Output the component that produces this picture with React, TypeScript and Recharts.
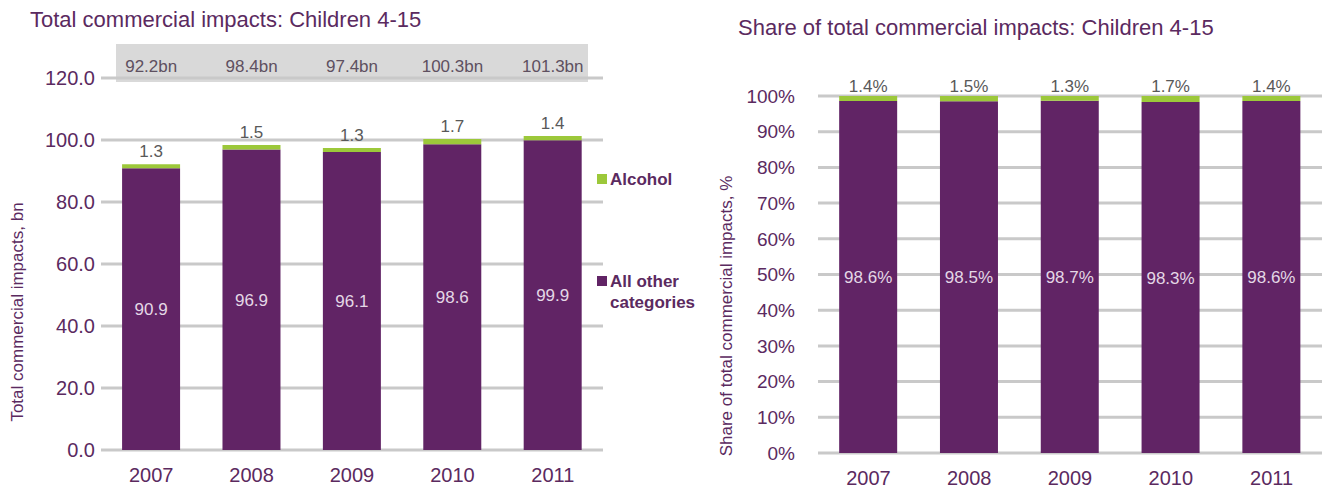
import { BarChart, Bar, XAxis, YAxis, CartesianGrid, LabelList } from 'recharts';

const years = ['2007', '2008', '2009', '2010', '2011'];
const otherBn = [90.9, 96.9, 96.1, 98.6, 99.9];
const alcoholBn = [1.3, 1.5, 1.3, 1.7, 1.4];
const totalsBn = [92.2, 98.4, 97.4, 100.3, 101.3];
const otherPct = [98.6, 98.5, 98.7, 98.3, 98.6];
const alcoholPct = [1.4, 1.5, 1.3, 1.7, 1.4];
const bnTicks = [0, 20, 40, 60, 80, 100, 120];
const pctTicks = [0, 10, 20, 30, 40, 50, 60, 70, 80, 90, 100];

const PURPLE = '#612465';
const GREEN = '#9cc83a';
const TEXT = '#5b2a5f';
const GRID = '#c9c9c9';
const FONT = '"Liberation Sans", Arial, sans-serif';

const bnData = years.map((year, i) => ({ year, other: otherBn[i], alcohol: alcoholBn[i], total: totalsBn[i] }));
const pctData = years.map((year, i) => ({ year, other: otherPct[i], alcohol: alcoholPct[i] }));

const tickStyle = { fill: TEXT, fontSize: 20, fontFamily: FONT };

const LegendBox = () => (
  <div style={{ position: 'absolute', left: 597, top: 169, fontFamily: FONT, fontSize: 17, fontWeight: 'bold', color: TEXT, lineHeight: '21px' }}>
    <div style={{ display: 'flex', alignItems: 'flex-start' }}>
      <span style={{ width: 10, height: 10, background: GREEN, marginTop: 5, marginRight: 3 }} />
      <span>Alcohol</span>
    </div>
    <div style={{ display: 'flex', alignItems: 'flex-start', marginTop: 81 }}>
      <span style={{ width: 10, height: 10, background: PURPLE, marginTop: 5, marginRight: 3 }} />
      <span>All other<br />categories</span>
    </div>
  </div>
);

export default function App() {
  return (
    <div style={{ position: 'absolute', left: 0, top: 0, width: 1330, height: 492, background: '#fff', fontFamily: FONT }}>
      {/* totals strip behind the left chart */}
      <div style={{ position: 'absolute', left: 116, top: 44, width: 472, height: 38, background: '#d9d9d9' }} />

      <div style={{ position: 'absolute', left: 30, top: 7, fontSize: 22, color: TEXT, whiteSpace: 'nowrap' }}>
        Total commercial impacts: Children 4-15
      </div>
      <div style={{ position: 'absolute', left: 738, top: 15, fontSize: 22, color: TEXT, whiteSpace: 'nowrap' }}>
        Share of total commercial impacts: Children 4-15
      </div>

      <div style={{ position: 'absolute', left: 18, top: 312, fontSize: 17, color: TEXT, whiteSpace: 'nowrap', transform: 'translate(-50%, -50%) rotate(-90deg)' }}>
        Total commercial impacts, bn
      </div>
      <div style={{ position: 'absolute', left: 727, top: 316, fontSize: 17, color: TEXT, whiteSpace: 'nowrap', transform: 'translate(-50%, -50%) rotate(-90deg)' }}>
        Share of total commercial impacts, %
      </div>

      <LegendBox />

      <div style={{ position: 'absolute', left: 0, top: 0 }}>
        <BarChart width={700} height={492} data={bnData} margin={{ top: 0, right: 97, bottom: 0, left: 0 }} barCategoryGap="21%">
          <CartesianGrid vertical={false} stroke={GRID} strokeWidth={3} />
          <XAxis xAxisId="top" orientation="top" dataKey="year" height={78} axisLine={false} tickLine={false} tickSize={0} tickMargin={6}
            tickFormatter={(v: string, i: number) => `${totalsBn[i]}bn`} tick={{ fill: '#5e5060', fontSize: 17, fontFamily: FONT }} />
          <XAxis dataKey="year" height={42} axisLine={false} tickLine={false} tickMargin={12} tick={tickStyle} />
          <YAxis width={101} domain={[0, 120]} ticks={bnTicks} axisLine={false} tickLine={false} tickSize={0} tickMargin={6}
            tickFormatter={(v: number) => v.toFixed(1)} tick={tickStyle} />
          <Bar dataKey="other" stackId="a" fill={PURPLE} isAnimationActive={false}>
            <LabelList dataKey="other" position="center" fill="#e4d8e6" fontSize={17} fontFamily={FONT}
              formatter={(v: number) => v.toFixed(1)} />
          </Bar>
          <Bar dataKey="alcohol" stackId="a" fill={GREEN} isAnimationActive={false}>
            <LabelList dataKey="alcohol" position="top" offset={7} fill="#595959" fontSize={17} fontFamily={FONT}
              formatter={(v: number) => v.toFixed(1)} />
          </Bar>
        </BarChart>
      </div>

      <div style={{ position: 'absolute', left: 700, top: 0 }}>
        <BarChart width={630} height={492} data={pctData} margin={{ top: 96, right: 8, bottom: 0, left: 0 }} barCategoryGap="21%">
          <CartesianGrid vertical={false} stroke={GRID} strokeWidth={3} />
          <XAxis dataKey="year" height={39} axisLine={false} tickLine={false} tickMargin={12} tick={tickStyle} />
          <YAxis width={118} domain={[0, 100]} ticks={pctTicks} axisLine={false} tickLine={false} tickSize={0} tickMargin={23}
            tickFormatter={(v: number) => `${v}%`} tick={{ ...tickStyle, fontSize: 19 }} />
          <Bar dataKey="other" stackId="a" fill={PURPLE} isAnimationActive={false}>
            <LabelList dataKey="other" position="center" fill="#e4d8e6" fontSize={17} fontFamily={FONT}
              formatter={(v: number) => `${v.toFixed(1)}%`} />
          </Bar>
          <Bar dataKey="alcohol" stackId="a" fill={GREEN} isAnimationActive={false}>
            <LabelList dataKey="alcohol" position="top" offset={4} fill="#595959" fontSize={17} fontFamily={FONT}
              formatter={(v: number) => `${v.toFixed(1)}%`} />
          </Bar>
        </BarChart>
      </div>
    </div>
  );
}
